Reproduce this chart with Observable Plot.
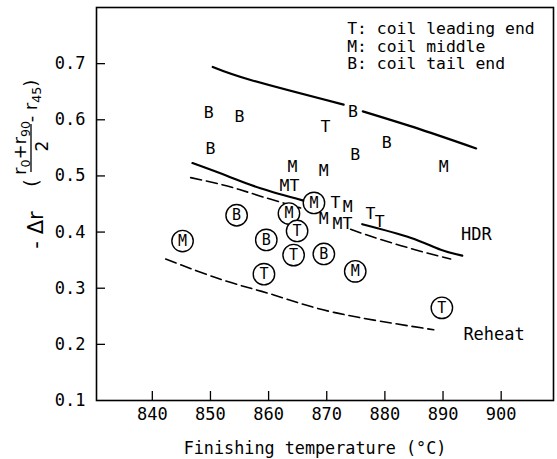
<!DOCTYPE html>
<html><head><meta charset="utf-8">
<script src="https://cdn.jsdelivr.net/npm/d3@7"></script>
<script src="https://cdn.jsdelivr.net/npm/@observablehq/plot@0.6"></script>
<style>body{margin:0;background:#fff} svg{display:block}</style>
</head><body><div id="chart"></div>
<script>
// ---- data ----
const xTicks = [840, 850, 860, 870, 880, 890, 900];
const yTickLabels = [0.1, 0.2, 0.3, 0.4, 0.5, 0.6, 0.7];
const yTicks = [0.2, 0.3, 0.4, 0.5, 0.6, 0.7];

// uncircled letters
const plainText = ["B","B","B","T","B","B","M","M","B","M","MT","T","M","M","MT","T","T"];
const plainX = [849.7,855.0,850.0,869.8,874.5,874.9,864.1,869.5,880.3,890.1,863.6,871.5,873.6,869.5,872.7,877.5,879.1];
const plainY = [0.613,0.606,0.549,0.588,0.615,0.537,0.517,0.510,0.560,0.516,0.483,0.452,0.446,0.423,0.414,0.433,0.418];

// circled letters
const circText = ["M","B","B","T","M","T","T","M","B","M","T"];
const circX = [845.2,854.5,859.6,859.2,863.5,864.9,864.3,867.8,869.5,874.9,889.8];
const circY = [0.384,0.430,0.386,0.325,0.433,0.402,0.359,0.452,0.361,0.330,0.265];

// curves
const upperAX = [850.4, 857.2, 872.9], upperAY = [0.694, 0.670, 0.627];
const upperBX = [876.2, 886.1, 895.7], upperBY = [0.615, 0.583, 0.549];
const hdrSolidAX = [846.9, 852.9, 858.6, 866.0], hdrSolidAY = [0.523, 0.500, 0.478, 0.456];
const hdrSolidBX = [876.1, 884.4, 889.5, 893.3], hdrSolidBY = [0.414, 0.390, 0.369, 0.358];
const hdrDashAX = [846.6, 852.9, 858.6, 865.5], hdrDashAY = [0.497, 0.482, 0.464, 0.443];
const hdrDashBX = [874.1, 879.2, 886.1, 891.3], hdrDashBY = [0.405, 0.387, 0.366, 0.352];
const reheatX = [842.3, 852.3, 860.9, 871.2, 888.4], reheatY = [0.352, 0.314, 0.288, 0.257, 0.226];

const curveLabels = ["HDR", "Reheat"];
const curveLabelX = [893.1, 893.5];
const curveLabelY = [0.396, 0.218];

const legendLines = ["T: coil leading end", "M: coil middle", "B: coil tail end"];
const xTitle = "Finishing temperature (°C)";

// ---- build tables ----
const plain = plainText.map((t, i) => ({t, x: plainX[i], y: plainY[i]}));
const circ = circText.map((t, i) => ({t, x: circX[i], y: circY[i]}));
function rows(id, xs, ys) { return xs.map((x, i) => ({id, x, y: ys[i]})); }
const solid = [
  ...rows("uA", upperAX, upperAY), ...rows("uB", upperBX, upperBY),
  ...rows("hA", hdrSolidAX, hdrSolidAY), ...rows("hB", hdrSolidBX, hdrSolidBY)
];
const dashed = [
  ...rows("dA", hdrDashAX, hdrDashAY), ...rows("dB", hdrDashBX, hdrDashBY),
  ...rows("r", reheatX, reheatY)
];
const labels = curveLabels.map((t, i) => ({t, x: curveLabelX[i], y: curveLabelY[i]}));

const mono = "DejaVu Sans Mono";
const plot = Plot.plot({
  width: 557, height: 459,
  marginLeft: 96, marginRight: 4, marginTop: 7, marginBottom: 59,
  style: {fontFamily: mono, fontSize: "17px", background: "#fff", color: "#000"},
  x: {domain: [830.4, 909], label: null},
  y: {domain: [0.1, 0.8], label: null},
  marks: [
    Plot.axisX(xTicks, {tickSize: 0, tickPadding: 7, fontSize: 17, label: null, tickFormat: d => String(d)}),
    Plot.axisY(yTickLabels, {tickSize: 0, tickPadding: 11, fontSize: 17, label: null, tickFormat: d => d.toFixed(1)}),
    Plot.tickX(xTicks, {x: d => d, insetTop: 384, stroke: "#000", strokeWidth: 1.3}),
    Plot.tickY(yTicks, {y: d => d, insetRight: 448, stroke: "#000", strokeWidth: 1.3}),
    Plot.line(solid, {x: "x", y: "y", z: "id", stroke: "#000", strokeWidth: 2.2, curve: "natural"}),
    Plot.line(dashed, {x: "x", y: "y", z: "id", stroke: "#000", strokeWidth: 1.6, strokeDasharray: "11,5", curve: "natural"}),
    Plot.dot(circ, {x: "x", y: "y", r: 10.7, stroke: "#000", strokeWidth: 1.4, fill: "#fff"}),
    Plot.text(circ, {x: "x", y: "y", text: "t", fontSize: 15, fill: "#000"}),
    Plot.text(plain, {x: "x", y: "y", text: "t", fontSize: 16.5, fill: "#000", letterSpacing: "-0.5px"}),
    Plot.text(labels, {x: "x", y: "y", text: "t", textAnchor: "start", fontSize: 17, fill: "#000"}),
    Plot.text([legendLines.join("\n")], {frameAnchor: "top-left", textAnchor: "start", lineAnchor: "top",
      dx: 250.7, dy: 14, lineHeight: 1.07, fontSize: 16.4, letterSpacing: "0.5px", fill: "#000"}),
    Plot.text([xTitle], {frameAnchor: "bottom", lineAnchor: "middle", dx: -10, dy: 48, fontSize: 16.8, fill: "#000"}),
    Plot.frame({stroke: "#000", strokeWidth: 1.6})
  ]
});
document.getElementById("chart").appendChild(plot);

// ---- y-axis title: -Δr ((r0+r90)/2 - r45), rotated ----
const svg = d3.select(plot);
const g = svg.append("g").attr("font-family", "DejaVu Sans").attr("fill", "#000").attr("text-anchor", "middle");
function rot(bx, cy, size) {
  return g.append("text").attr("transform", `translate(${bx},${cy}) rotate(-90)`).attr("font-size", size);
}
rot(43, 230, 21).text("- Δr");
rot(38, 183, 20).text("(");
const num = rot(26, 148, 18);
num.append("tspan").text("r");
num.append("tspan").attr("font-size", "0.7em").attr("dy", "0.3em").text("0");
num.append("tspan").attr("dy", "-0.2em").text("+r");
num.append("tspan").attr("font-size", "0.7em").attr("dy", "0.3em").text("90");
g.append("line").attr("x1", 31).attr("x2", 31).attr("y1", 124).attr("y2", 172).attr("stroke", "#000").attr("stroke-width", 1.3);
rot(48, 146, 17).text("2");
const r45 = rot(37, 101, 18);
r45.append("tspan").text("- r");
r45.append("tspan").attr("font-size", "0.7em").attr("dy", "0.3em").text("45");
r45.append("tspan").attr("dy", "-0.2em").text(")");
</script>
</body></html>
